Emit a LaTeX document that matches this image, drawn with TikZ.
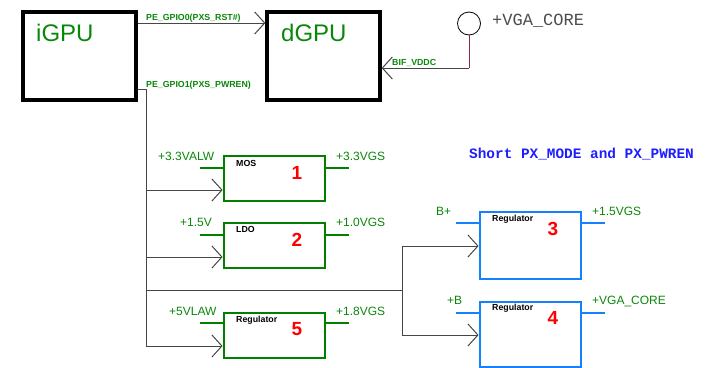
\documentclass[tikz,border=0pt]{standalone}
\usepackage{fontspec}
\setmainfont{Liberation Sans}
\newfontfamily\monofont{Liberation Mono}
\usetikzlibrary{arrows.meta}
\definecolor{gtext}{RGB}{10,135,10}
\definecolor{gbox}{RGB}{0,128,0}
\definecolor{bbox}{RGB}{20,130,255}
\definecolor{wirec}{RGB}{70,70,70}
\definecolor{maroonc}{RGB}{140,40,80}
\definecolor{notec}{RGB}{30,30,255}
\tikzset{
  gpubox/.style={draw=black, line width=3.3pt, minimum width=113pt, minimum height=88pt, inner sep=0pt},
  gregbox/.style={draw=gbox, line width=2.8pt, minimum width=101pt, minimum height=45pt, inner sep=0pt},
  bregbox/.style={draw=bbox, line width=2.8pt, minimum width=101pt, inner sep=0pt},
  gstub/.style={draw=gbox, line width=2.8pt},
  bstub/.style={draw=bbox, line width=2.8pt},
  wire/.style={draw=wirec, line width=1pt},
  tipped/.style={-{Straight Barb[length=10pt,width=22pt]}},
  lbl/.style={font=\fontsize{12}{14}\selectfont, text=gtext, inner sep=0pt, anchor=base west},
  sig/.style={font=\fontsize{8.8}{10}\selectfont\bfseries, text=gtext, inner sep=0pt, anchor=base west},
  kind/.style={font=\fontsize{8.8}{10}\selectfont\bfseries, text=black, inner sep=0pt, anchor=base west},
  num/.style={font=\fontsize{19}{22}\selectfont\bfseries, text=red, inner sep=0pt, anchor=base},
  big/.style={font=\fontsize{24}{28}\selectfont, text=gtext, inner sep=0pt, anchor=base west}
}
\begin{document}
\begin{tikzpicture}[x=1pt,y=-1pt]
\useasboundingbox (0,0) rectangle (706,367);
% GPU boxes
\node[gpubox] (igpu) at (79.5,56) {};
\node[gpubox] (dgpu) at (323.5,56) {};
\node[big] (igput) at (36,41.3) {iGPU};
\node[big] (dgput) at (281,41.3) {dGPU};
% regulator boxes
\node[gregbox] (b1) at (274.5,178.5) {};
\node[gregbox] (b2) at (274.5,245.5) {};
\node[gregbox] (b5) at (274.5,335.5) {};
\node[bregbox, minimum height=67pt] (b3) at (530.5,245.5) {};
\node[bregbox, minimum height=65pt] (b4) at (530.5,334.5) {};
% stubs
\draw[gstub] ([yshift=10.5pt]b1.west) -- ++(-23,0);
\draw[gstub] ([yshift=10.5pt]b1.east) -- ++(23,0);
\draw[gstub] ([yshift=10.5pt]b2.west) -- ++(-23,0);
\draw[gstub] ([yshift=10.5pt]b2.east) -- ++(23,0);
\draw[gstub] ([yshift=12.5pt]b5.west) -- ++(-23,0);
\draw[gstub] ([yshift=12.5pt]b5.east) -- ++(23,0);
\draw[bstub] ([yshift=22.5pt]b3.west) -- ++(-23,0);
\draw[bstub] ([yshift=22.5pt]b3.east) -- ++(23,0);
\draw[bstub] ([yshift=21.5pt]b4.west) -- ++(-23,0);
\draw[bstub] ([yshift=21.5pt]b4.east) -- ++(23,0);
% VGA_CORE source
\node[draw=black, circle, line width=0.8pt, minimum size=23pt, inner sep=0pt] (vga) at (469,23.5) {};
\node[font=\monofont\fontsize{17}{20}\selectfont, text=black!70, inner sep=0pt, anchor=base west] (vgat) at (492,25) {+VGA\_CORE};
\coordinate (c) at (469,68);
\draw[draw=maroonc, line width=1pt] (vga.south) -- (c);
\draw[wire, tipped] (c) -- (c -| dgpu.east);
% signals
\draw[wire, tipped] ([yshift=33pt]igpu.east) -- ([yshift=33pt]dgpu.west);
\coordinate (j1) at (146,190);
\coordinate (j2) at (146,257);
\coordinate (j3) at (146,290);
\coordinate (j5) at (146,346);
\coordinate (k3) at (402,246);
\coordinate (k4) at (402,335);
\draw[wire] ([yshift=-33pt]igpu.east) -| (j5);
\draw[wire, tipped] (j1) -- (j1 -| b1.west);
\draw[wire, tipped] (j2) -- (j2 -| b2.west);
\draw[wire, tipped] (j5) -- (j5 -| b5.west);
\draw[wire] (j3) -- (j3 -| k3);
\draw[wire] (k3) -- (k4);
\draw[wire, tipped] (k3) -- (k3 -| b3.west);
\draw[wire, tipped] (k4) -- (k4 -| b4.west);
% signal labels
\node[sig] (s0) at (146,20.5) {PE\_GPIO0(PXS\_RST\#)};
\node[sig] (s1) at (146,87.5) {PE\_GPIO1(PXS\_PWREN)};
\node[sig] (s2) at (392,65) {BIF\_VDDC};
% rail labels
\node[lbl] (l1a) at (158,160) {+3.3VALW};
\node[lbl] (l1b) at (336,160) {+3.3VGS};
\node[lbl] (l2a) at (180,226) {+1.5V};
\node[lbl] (l2b) at (336,226) {+1.0VGS};
\node[lbl] (l5a) at (169,315) {+5VLAW};
\node[lbl] (l5b) at (336,315) {+1.8VGS};
\node[lbl] (l3a) at (436,215) {B+};
\node[lbl] (l3b) at (592,215) {+1.5VGS};
\node[lbl] (l4a) at (447,304) {+B};
\node[lbl] (l4b) at (592,304) {+VGA\_CORE};
% kinds
\node[kind] (k1t) at (236,166) {MOS};
\node[kind] (k2t) at (236,232.7) {LDO};
\node[kind] (k5t) at (236,322.5) {Regulator};
\node[kind] (k3t) at (492,221.7) {Regulator};
\node[kind] (k4t) at (492,310.7) {Regulator};
% numbers
\node[num] (n1) at (297,179.3) {1};
\node[num] (n2) at (297,246) {2};
\node[num] (n5) at (297,335) {5};
\node[num] (n3) at (553,235.7) {3};
\node[num] (n4) at (553,324) {4};
% note
\node[font=\monofont\fontsize{14.4}{17}\selectfont\bfseries, text=notec, inner sep=0pt, anchor=base west] (note) at (469,158.3) {Short PX\_MODE and PX\_PWREN};
\end{tikzpicture}
\end{document}
